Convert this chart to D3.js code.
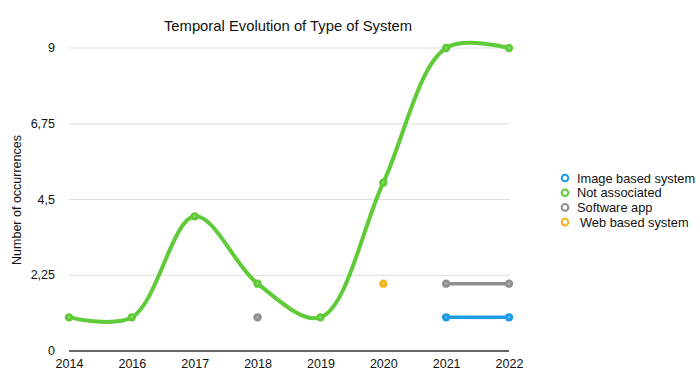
<!DOCTYPE html>
<html>
<head>
<meta charset="utf-8">
<script src="https://cdn.jsdelivr.net/npm/d3@7"></script>
<style>
  body { margin: 0; background: #fff; }
  svg { font-family: "Liberation Sans", Arial, sans-serif; }
</style>
</head>
<body>
<div id="chart"></div>
<script>
// ----------------------------------------------------------------------------
// data
// ----------------------------------------------------------------------------
const years = ['2014', '2016', '2017', '2018', '2019', '2020', '2021', '2022'];
const yTicks = [0, 2.25, 4.5, 6.75, 9];

const seriesNames = ['Image based system', 'Not associated', 'Software app', 'Web based system'];
const seriesColors = ['#1c9be6', '#5fcb38', '#8f8f8f', '#f2b51e'];

// null = no value that year
const imageBased    = [null, null, null, null, null, null, 1, 1];
const notAssociated = [1, 1, 4, 2, 1, 5, 9, 9];
const softwareApp   = [null, null, null, 1, null, null, 2, 2];
const webBased      = [null, null, null, null, null, 2, null, null];

const allSeries = [imageBased, notAssociated, softwareApp, webBased];

// ----------------------------------------------------------------------------
// svg + scales
// ----------------------------------------------------------------------------
const W = 700, H = 389;
const svg = d3.select('#chart').append('svg').attr('width', W).attr('height', H);

const xScale = d3.scalePoint().domain(years).range([69, 509]);
const yScale = d3.scaleLinear().domain([0, 9]).range([351, 48]);

svg.append('text')
  .text('Temporal Evolution of Type of System')
  .attr('x', 288).attr('y', 31)
  .attr('text-anchor', 'middle')
  .style('font-size', '14.8px')
  .style('fill', '#111');

// grid lines
svg.append('g').selectAll('line')
  .data(yTicks.filter(d => d > 0))
  .enter().append('line')
  .attr('x1', 69).attr('x2', 510)
  .attr('y1', d => yScale(d)).attr('y2', d => yScale(d))
  .attr('stroke', '#dedede').attr('stroke-width', 1);

// y axis labels (comma decimals)
const fmt = d => String(d).replace('.', ',');
svg.append('g').selectAll('text')
  .data(yTicks)
  .enter().append('text')
  .text(fmt)
  .attr('x', 55).attr('y', d => yScale(d) + 4)
  .attr('text-anchor', 'end')
  .style('font-size', '12.5px').style('fill', '#111');

svg.append('text')
  .text('Number of occurrences')
  .attr('transform', 'translate(21,200) rotate(-90)')
  .attr('text-anchor', 'middle')
  .style('font-size', '12.5px').style('fill', '#111');

// x axis
const xAxis = svg.append('g').attr('transform', `translate(0,${yScale(0)})`)
  .call(d3.axisBottom(xScale).tickSize(0).tickPadding(8));
xAxis.select('.domain').attr('stroke', '#333').attr('stroke-width', 1.5).attr('d', 'M69,0H509');
xAxis.selectAll('.tick text').style('font-size', '12.5px').style('fill', '#111')
  .style('font-family', '"Liberation Sans", Arial, sans-serif');

// ----------------------------------------------------------------------------
// lines + points
// ----------------------------------------------------------------------------
const line = d3.line()
  .defined(d => d[1] != null)
  .x(d => xScale(d[0]))
  .y(d => yScale(d[1]))
  .curve(d3.curveCatmullRom.alpha(0.5));

// draw grey/blue/yellow first, green on top
[2, 0, 3, 1].forEach(i => {
  const pts = years.map((y, j) => [y, allSeries[i][j]]);
  const g = svg.append('g');
  g.append('path')
    .attr('d', line(pts))
    .attr('fill', 'none')
    .attr('stroke', seriesColors[i])
    .attr('stroke-width', i == 1 ? 4 : 3.5)
    .attr('stroke-linecap', 'round');
  g.selectAll('circle')
    .data(pts.filter(d => d[1] != null))
    .enter().append('circle')
    .attr('cx', d => xScale(d[0]))
    .attr('cy', d => yScale(d[1]))
    .attr('r', 4.2)
    .attr('fill', seriesColors[i]);
  g.selectAll('.dot')
    .data(pts.filter(d => d[1] != null))
    .enter().append('circle')
    .attr('cx', d => xScale(d[0]))
    .attr('cy', d => yScale(d[1]))
    .attr('r', 1.1)
    .attr('fill', '#fff').attr('opacity', 0.4);
});

// ----------------------------------------------------------------------------
// legend
// ----------------------------------------------------------------------------
const legend = svg.append('g').attr('transform', 'translate(565,178)');
seriesNames.forEach((name, i) => {
  const row = legend.append('g').attr('transform', `translate(0,${i * 14.7})`);
  row.append('circle').attr('cx', 0).attr('cy', 0).attr('r', 3.3)
    .attr('fill', '#fff').attr('stroke', seriesColors[i]).attr('stroke-width', 2);
  row.append('text').text(name)
    .attr('x', i == 3 ? 15 : 12).attr('y', 4.5)
    .style('font-size', '12.8px').style('fill', '#111');
});
</script>
</body>
</html>
